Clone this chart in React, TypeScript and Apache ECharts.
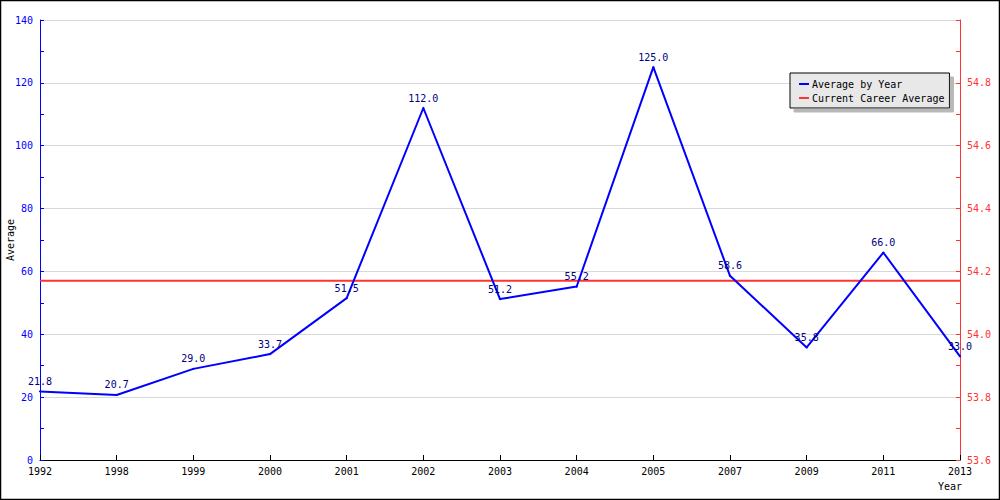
import React, { useEffect, useRef } from "react";
import * as echarts from "echarts";

const years = ["1992", "1998", "1999", "2000", "2001", "2002", "2003", "2004", "2005", "2007", "2009", "2011", "2013"];
const averageByYear = [21.8, 20.7, 29.0, 33.7, 51.5, 112.0, 51.2, 55.2, 125.0, 58.6, 35.8, 66.0, 33.0];
const careerAverage = 54.17;
const careerSeries = years.map(() => careerAverage);

const FONT = "DejaVu Sans Mono";

export default function App() {
  const ref = useRef<HTMLDivElement>(null);
  useEffect(() => {
    if (!ref.current) return;
    const chart = echarts.init(ref.current, undefined, { renderer: "svg" });
    chart.setOption({
      animation: false,
      backgroundColor: "#ffffff",
      textStyle: { fontFamily: FONT, fontSize: 10 },
      grid: { left: 40, right: 40, top: 20, bottom: 40, containLabel: false, outerBoundsMode: "none" },
      legend: {
        orient: "vertical",
        left: 790,
        top: 73,
        backgroundColor: "#e8e8e8",
        borderColor: "#000000",
        borderWidth: 1,
        borderRadius: 0,
        shadowColor: "#b8b8b8",
        shadowBlur: 0,
        shadowOffsetX: 4,
        shadowOffsetY: 4,
        padding: [6, 5, 5, 9],
        itemGap: 4,
        itemWidth: 10,
        itemHeight: 2,
        icon: "rect",
        textStyle: { fontFamily: FONT, fontSize: 10, color: "#000000", padding: [0, 0, 0, -2] },
        data: ["Average by Year", "Current Career Average"],
      },
      xAxis: {
        type: "category",
        data: years,
        boundaryGap: false,
        name: "Year",
        nameLocation: "end",
        nameGap: 2,
        nameMoveOverlap: false,
        nameTextStyle: {
          fontFamily: FONT,
          fontSize: 10,
          color: "#000000",
          align: "right",
          verticalAlign: "top",
          padding: [21, 0, 0, 0],
        },
        axisLine: { show: true, lineStyle: { color: "#000000", width: 1 } },
        axisTick: { show: true, inside: true, length: 5, lineStyle: { color: "#000000" } },
        axisLabel: { color: "#000000", fontFamily: FONT, fontSize: 10, margin: 6 },
        splitLine: { show: false },
      },
      yAxis: [
        {
          type: "value",
          min: 0,
          max: 140,
          interval: 20,
          name: "Average",
          nameLocation: "middle",
          nameRotate: 90,
          nameGap: 25,
          nameMoveOverlap: false,
          nameTextStyle: { fontFamily: FONT, fontSize: 10, color: "#000000" },
          axisLine: { show: true, lineStyle: { color: "#0000ff", width: 1 } },
          axisTick: { show: true, inside: true, length: 4, lineStyle: { color: "#0000ff" } },
          minorTick: { show: true, splitNumber: 2, length: 4, lineStyle: { color: "#0000ff" } },
          axisLabel: { color: "#0000ff", fontFamily: FONT, fontSize: 10, margin: 7 },
          splitLine: { show: true, lineStyle: { color: "#d8d8d8", width: 1 } },
        },
        {
          type: "value",
          min: 53.6,
          max: 55.0,
          interval: 0.2,
          position: "right",
          axisLine: { show: true, lineStyle: { color: "#ff3333", width: 1 } },
          axisTick: { show: true, inside: true, length: 4, lineStyle: { color: "#ff3333" } },
          minorTick: { show: true, splitNumber: 2, length: 4, lineStyle: { color: "#ff3333" } },
          axisLabel: {
            color: "#ff3333",
            fontFamily: FONT,
            fontSize: 10,
            margin: 7,
            showMaxLabel: false,
            formatter: (v: number) => v.toFixed(1),
          },
          splitLine: { show: false },
        },
      ],
      series: [
        {
          name: "Current Career Average",
          type: "line",
          yAxisIndex: 1,
          data: careerSeries,
          showSymbol: false,
          symbol: "none",
          color: "#ff3333",
          lineStyle: { color: "#ff3333", width: 2 },
          z: 2,
        },
        {
          name: "Average by Year",
          type: "line",
          yAxisIndex: 0,
          data: averageByYear,
          symbol: "circle",
          symbolSize: 2,
          color: "#0000ff",
          itemStyle: { color: "#0000ff" },
          lineStyle: { color: "#0000ff", width: 2 },
          label: {
            show: true,
            position: "top",
            distance: 4,
            color: "#000080",
            fontFamily: FONT,
            fontSize: 10,
            formatter: (p: any) => Number(p.value).toFixed(1),
          },
          z: 3,
        },
      ],
      graphic: [
        {
          type: "rect",
          silent: true,
          z: 100,
          shape: { x: 0.5, y: 0.5, width: 999, height: 499 },
          style: { fill: "none", stroke: "#000000", lineWidth: 1.5 },
        },
      ],
    });
    return () => chart.dispose();
  }, []);
  return (
    <div
      ref={ref}
      style={{ position: "fixed", left: 0, top: 0, width: 1000, height: 500 }}
    />
  );
}
